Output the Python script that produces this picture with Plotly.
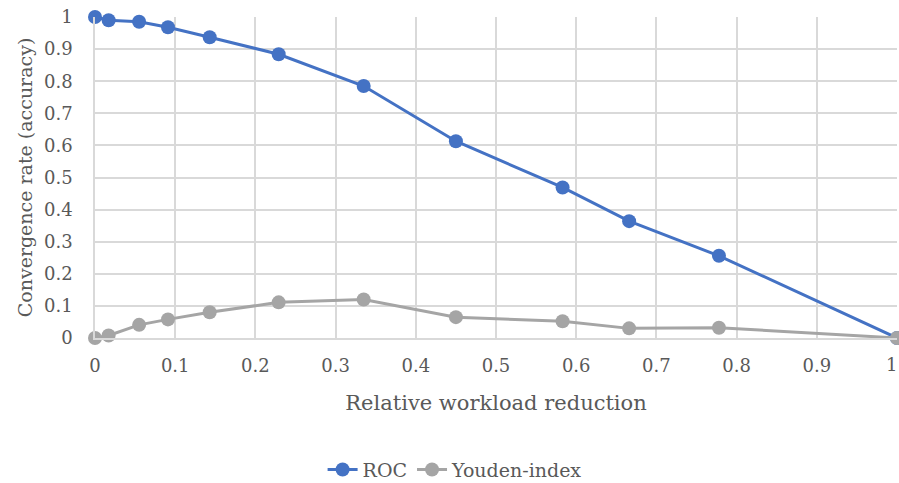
import plotly.graph_objects as go

x_vals = [0, 0.017, 0.055, 0.091, 0.143, 0.229, 0.335, 0.450, 0.583, 0.666, 0.778, 1.0]
roc = [1.0, 0.990, 0.985, 0.968, 0.937, 0.884, 0.785, 0.613, 0.469, 0.364, 0.256, 0.0]
youden = [0.0, 0.008, 0.041, 0.058, 0.080, 0.111, 0.120, 0.065, 0.052, 0.030, 0.032, 0.0]

tick_vals = [0, 0.1, 0.2, 0.3, 0.4, 0.5, 0.6, 0.7, 0.8, 0.9, 1]
y_tick_text = ["0", "0.1", "0.2", "0.3", "0.4", "0.5", "0.6", "0.7", "0.8", "0.9", "1"]
x_tick_text = ["0", "0.1", "0.2", "0.3", "0.4", "0.5", "0.6", "0.7", "0.8", "0.9", ""]
last_x_label = "1"

FONT = "DejaVu Serif"
text_color = "#595959"
grid_color = "#D9D9D9"

fig = go.Figure()
fig.add_trace(go.Scatter(
    x=x_vals, y=roc, name="ROC", mode="lines+markers",
    line=dict(color="#4472C4", width=3),
    marker=dict(color="#4472C4", size=14),
    cliponaxis=False,
))
fig.add_trace(go.Scatter(
    x=x_vals, y=youden, name="Youden-index", mode="lines+markers",
    line=dict(color="#A5A5A5", width=3),
    marker=dict(color="#A5A5A5", size=14),
    cliponaxis=False,
))

fig.add_annotation(x=tick_vals[-1], y=0, xref="x", yref="y", text=last_x_label, showarrow=False,
                   xanchor="right", yanchor="top", yshift=-14, xshift=2,
                   font=dict(family=FONT, size=18, color=text_color))

fig.update_layout(
    width=899, height=483,
    margin=dict(l=95, r=2, t=17, b=145, autoexpand=False),
    paper_bgcolor="white", plot_bgcolor="white",
    font=dict(family=FONT, size=18, color=text_color),
    showlegend=True,
    legend=dict(orientation="h", x=0.449, xanchor="center", y=-0.41, yanchor="middle",
                font=dict(family=FONT, size=19, color=text_color),
                traceorder="normal"),
    xaxis=dict(
        range=[0, 1], tickvals=tick_vals, ticktext=x_tick_text,
        showgrid=True, gridcolor=grid_color, gridwidth=1.5,
        zeroline=False, showline=True, linecolor=grid_color, linewidth=1.5,
        ticks="", ticklabelstandoff=11, automargin=False,
        tickfont=dict(family=FONT, size=18, color=text_color),
        title=dict(text="Relative workload reduction",
                   font=dict(family=FONT, size=21, color=text_color), standoff=20),
    ),
    yaxis=dict(
        range=[0, 1], tickvals=tick_vals, ticktext=y_tick_text,
        showgrid=True, gridcolor=grid_color, gridwidth=1.5,
        zeroline=False, showline=True, linecolor=grid_color, linewidth=1.5,
        ticks="", ticklabelstandoff=17, automargin=False,
        tickfont=dict(family=FONT, size=18, color=text_color),
        title=dict(text="Convergence rate (accuracy)",
                   font=dict(family=FONT, size=19, color=text_color), standoff=6),
    ),
)

fig.write_html("out.html")
